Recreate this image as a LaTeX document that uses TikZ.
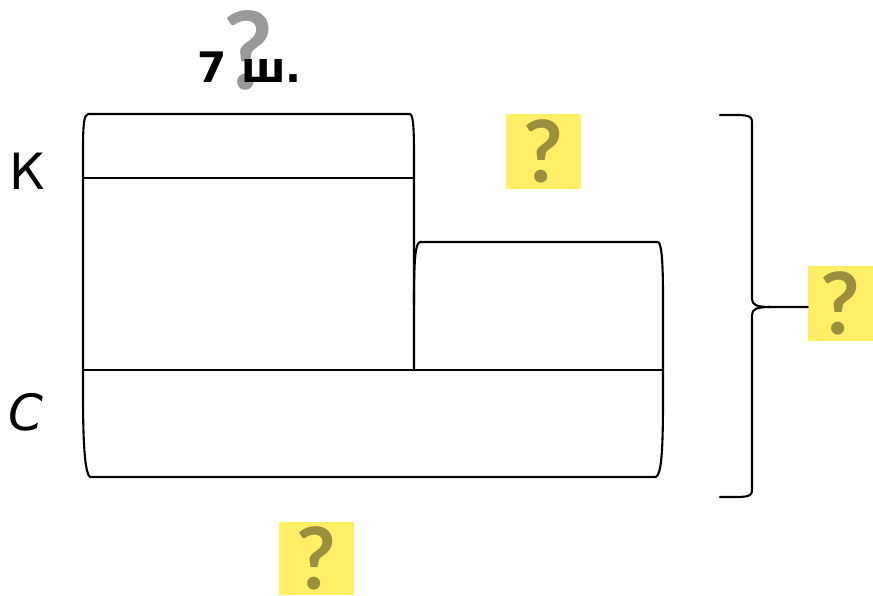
\documentclass[tikz,border=0pt]{standalone}
\usepackage{fontspec}
\setmainfont{DejaVu Sans}
\newfontfamily\qfont{Lato}
\definecolor{stickyY}{HTML}{FFEE66}
\definecolor{qOlive}{HTML}{9B8F3E}
\definecolor{qGray}{HTML}{999999}
\begin{document}
\begin{tikzpicture}[x=1pt,y=-1pt,
  outline/.style={line width=2.1pt,line join=round,line cap=round},
  sticky/.style={fill=stickyY,inner sep=0pt,text=qOlive,font=\qfont\bfseries\fontsize{86}{86}\selectfont}]
\useasboundingbox (0,0) rectangle (873,595);
% top gray question mark and label
\node[text=qGray,inner sep=0pt,font=\qfont\bfseries\fontsize{108}{108}\selectfont] (qtop) at (248,50) {?};
\node[anchor=base west,font=\bfseries\fontsize{42}{42}\selectfont] (lbl) at (194,82) {7 ш.};
% row labels
\node[font=\fontsize{50}{50}\selectfont] (K) at (27,171) {К};
\node[font=\itshape\fontsize{50}{50}\selectfont] (C) at (26,412) {С};
% top box
\draw[outline] (83,370) -- (83,150) .. controls (83,124) and (84,115) .. (88,114) -- (410,114)
  .. controls (413,115) and (414,126) .. (414,155) -- (414,370);
\draw[outline] (83,178) -- (414,178);
% second box
\draw[outline] (414,305) .. controls (414,262) and (415,243) .. (420,242) -- (658,242)
  .. controls (661,243) and (663,256) .. (663,297) -- (663,370);
% bottom box
\draw[outline] (83,370) -- (663,370);
\draw[outline] (663,370) -- (663,400) .. controls (663,455) and (661,474) .. (656,477) -- (90,477)
  .. controls (86,474) and (83,455) .. (83,395) -- (83,370);
% sticky notes
\node[sticky,minimum width=75pt,minimum height=75pt] (q1) at (543,151.5) {?};
\node[sticky,minimum width=65pt,minimum height=75pt] (q2) at (840.5,303.5) {?};
\node[sticky,minimum width=75pt,minimum height=73pt] (q3) at (316.5,558.5) {?};
% brace
\coordinate (tip) at (770,307);
\draw[outline] (720,115) .. controls (745,115) and (752,114) .. (752,122) -- (752,299)
  .. controls (752,305) and (757,307) .. (tip) -- (q2.west |- tip);
\draw[outline] (tip) .. controls (757,307) and (752,309) .. (752,315) -- (752,490)
  .. controls (752,498) and (745,497) .. (720,497);
\end{tikzpicture}
\end{document}
